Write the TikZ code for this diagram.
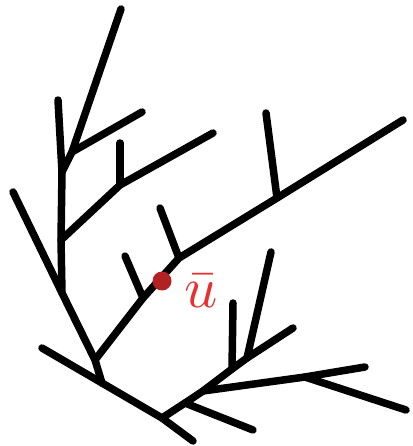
\documentclass[tikz,border=0pt]{standalone}
\definecolor{dotred}{HTML}{B22222}
\definecolor{textred}{HTML}{E8312F}
\begin{document}
\begin{tikzpicture}[x=1pt, y=-1pt,
    branch/.style={line width=7.5pt, line cap=round, line join=round},
    vertex/.style={circle, fill=dotred, minimum size=19pt, inner sep=0pt},
    ulabel/.style={text=textred, inner sep=0pt, scale=5.8}
]
\useasboundingbox (0,0) rectangle (412,446);

% Upper left part
\coordinate (t1) at (121,9);
\coordinate (s0) at (58,100);
\coordinate (j1) at (72,152);
\coordinate (b1) at (142,112);
\coordinate (j2) at (62,172);
\coordinate (j3) at (61,240);
\coordinate (j4) at (120,185);
\coordinate (b2) at (213,133);
\coordinate (b3) at (120,143);
\coordinate (j5) at (62,293);
\coordinate (l1) at (13,192);
\coordinate (j6) at (95,360);
\coordinate (j7) at (102,383);

% Middle branch
\coordinate (j9) at (143,298);
\coordinate (j10) at (179,258);
\coordinate (b4) at (125,256);
\coordinate (b5) at (160,208);
\coordinate (j16) at (277,198);
\coordinate (b6) at (266,113);
\coordinate (b7) at (403,120);

% Bottom part
\coordinate (l2) at (42,348);
\coordinate (b8) at (193,441);
\coordinate (j8) at (162,418);
\coordinate (j11) at (185,403);
\coordinate (j12) at (203,391);
\coordinate (j13) at (232,369);
\coordinate (j14) at (247,358);
\coordinate (b9) at (293,328);
\coordinate (b10) at (253,430);
\coordinate (j15) at (305,377);
\coordinate (b11) at (365,367);
\coordinate (b12) at (406,410);
\coordinate (b13) at (233,303);
\coordinate (b14) at (271,252);

% Branches
\draw[branch] (t1) -- (j1) -- (j2);
\draw[branch] (j1) -- (b1);
\draw[branch] (s0) -- (j2) -- (j3) -- (j5);
\draw[branch] (j3) -- (j4) -- (b2);
\draw[branch] (j4) -- (b3);
\draw[branch] (l1) -- (j5) -- (j6) -- (j7);
\draw[branch] (j6) -- (j9) -- (j10) -- (j16) -- (b7);
\draw[branch] (j9) -- (b4);
\draw[branch] (j10) -- (b5);
\draw[branch] (j16) -- (b6);
\draw[branch] (l2) -- (j7) -- (j8) -- (b8);
\draw[branch] (j8) -- (j11) -- (j12) -- (j13) -- (j14) -- (b9);
\draw[branch] (j11) -- (b10);
\draw[branch] (j12) -- (j15) -- (b11);
\draw[branch] (j15) -- (b12);
\draw[branch] (j13) -- (b13);
\draw[branch] (j14) -- (b14);

% Marked point
\node[vertex] (u) at (162,281) {};
\node[ulabel] (ubar) at (201,291) {$\bar{u}$};
\end{tikzpicture}
\end{document}
